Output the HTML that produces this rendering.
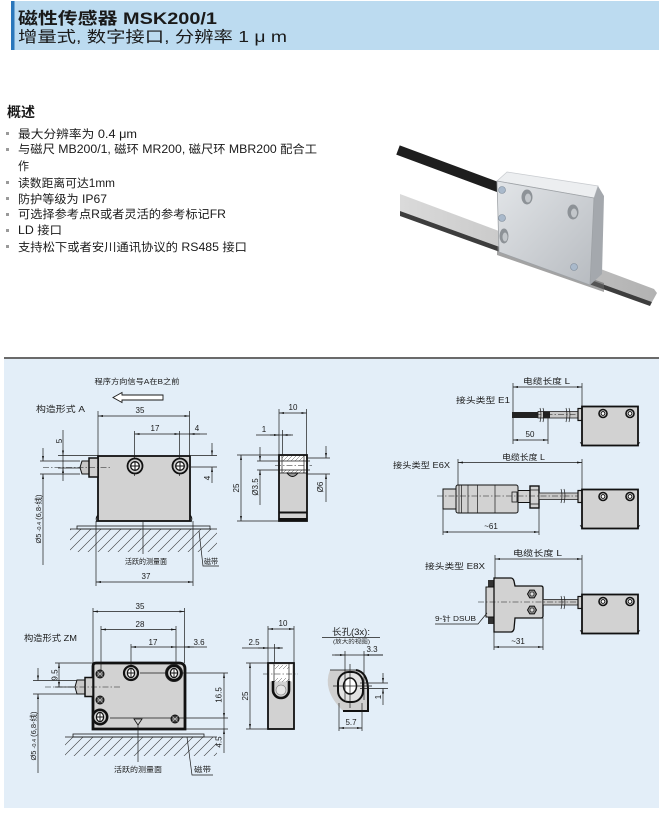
<!DOCTYPE html>
<html><head><meta charset="utf-8">
<style>
html,body{margin:0;padding:0;background:#fff;}
svg{display:block;}
text{font-family:"Liberation Sans","Noto Sans CJK SC",sans-serif;fill:#1a1a1a;}
.l{stroke:#1a1a1a;stroke-width:0.7;fill:none;}
.dm{stroke:#1a1a1a;stroke-width:0.7;fill:none;marker-start:url(#a);marker-end:url(#a);}
.me{stroke:#1a1a1a;stroke-width:0.7;fill:none;marker-end:url(#a);}
.c{stroke:#1a1a1a;stroke-width:0.6;fill:none;stroke-dasharray:6 2 1.5 2;}
.b{fill:#d2d2d2;stroke:#111;stroke-width:1.8;}
.t8{font-size:8px;}
.bt{font-size:11.5px;}
.bl{fill:#9a9a9a;}
</style></head><body>
<svg width="659" height="817" viewBox="0 0 659 817" xmlns="http://www.w3.org/2000/svg">
<defs>
<marker id="a" viewBox="0 0 10 4" refX="10" refY="2" markerWidth="5" markerHeight="2" markerUnits="userSpaceOnUse" orient="auto-start-reverse"><path d="M0,0L10,2L0,4z" fill="#1a1a1a"/></marker>
<pattern id="h" width="10" height="10" patternUnits="userSpaceOnUse"><path d="M-1,11L11,-1M-1,1L1,-1M9,11L11,9" stroke="#333" stroke-width="0.6"/></pattern>
<pattern id="h2" width="4" height="4" patternUnits="userSpaceOnUse"><path d="M-1,5L5,-1" stroke="#555" stroke-width="0.5"/></pattern>
<linearGradient id="sg" x1="0" y1="0" x2="1" y2="0"><stop offset="0" stop-color="#dadada"/><stop offset="0.5" stop-color="#c6c6c6"/><stop offset="1" stop-color="#b2b2b2"/></linearGradient>
<linearGradient id="ff" x1="0" y1="0" x2="1" y2="1"><stop offset="0" stop-color="#e2e5e8"/><stop offset="1" stop-color="#b7bbc0"/></linearGradient>
<g id="sA"><circle r="7.5" fill="#cfcfcf" stroke="#111" stroke-width="1.8"/><circle r="4.3" fill="#fff" stroke="#111" stroke-width="1.3"/><path d="M-4.3,0H4.3M0,-4.3V4.3" stroke="#111" stroke-width="1"/></g>
<g id="sS"><circle r="4" fill="#cfcfcf" stroke="#111" stroke-width="1.6"/><circle r="1.9" fill="#fff" stroke="#111" stroke-width="0.9"/></g>
<g id="sZ"><circle r="7" fill="#d2d2d2" stroke="#111" stroke-width="2.2"/><ellipse rx="3.6" ry="4.6" fill="#fff" stroke="#111" stroke-width="1.2"/><path d="M-3.6,0H3.6M0,-4.6V4.6" stroke="#111" stroke-width="0.9"/></g>
<g id="sm"><circle r="4" fill="#3a3a3a" stroke="#111" stroke-width="1"/><path d="M-2.5,-2.5L2.5,2.5M-2.5,2.5L2.5,-2.5M-3,0H3" stroke="#bbb" stroke-width="0.8"/></g>
<g id="body"><rect class="b" x="0" y="0" width="56" height="39"/><use href="#sS" x="21" y="7"/><use href="#sS" x="48" y="7"/><path d="M-2,36 q2,1 2,3 M58,36 q-2,1 -2,3" stroke="#111" stroke-width="0.8" fill="none"/></g>
<g id="hex"><polygon points="4.5,0 2.25,3.9 -2.25,3.9 -4.5,0 -2.25,-3.9 2.25,-3.9" fill="#8a8a8a" stroke="#111" stroke-width="1"/><circle r="2" fill="#ddd" stroke="#111" stroke-width="0.6"/></g>
</defs>

<!-- Header -->
<rect x="11" y="1" width="648" height="49" fill="#bcdbf0"/>
<rect x="11" y="1" width="3.5" height="49" fill="#2a77bb"/>
<text x="18" y="24" font-size="16.5" font-weight="bold" textLength="199" lengthAdjust="spacingAndGlyphs">磁性传感器 MSK200/1</text>
<text x="18" y="42" font-size="15.5" textLength="269" lengthAdjust="spacingAndGlyphs">增量式, 数字接口, 分辨率 1 μ m</text>

<!-- Overview -->
<text x="7" y="117" font-size="14" font-weight="bold" textLength="28" lengthAdjust="spacingAndGlyphs">概述</text>
<rect class="bl" x="6" y="132" width="3" height="3"/>
<text class="bt" x="18" y="138" textLength="119" lengthAdjust="spacingAndGlyphs">最大分辨率为 0.4 μm</text>
<rect class="bl" x="6" y="148" width="3" height="3"/>
<text class="bt" x="18" y="153" textLength="299" lengthAdjust="spacingAndGlyphs">与磁尺 MB200/1, 磁环 MR200, 磁尺环 MBR200 配合工</text>
<text class="bt" x="18" y="170" textLength="11" lengthAdjust="spacingAndGlyphs">作</text>
<rect class="bl" x="6" y="181" width="3" height="3"/>
<text class="bt" x="18" y="187" textLength="97" lengthAdjust="spacingAndGlyphs">读数距离可达1mm</text>
<rect class="bl" x="6" y="197" width="3" height="3"/>
<text class="bt" x="18" y="203" textLength="89" lengthAdjust="spacingAndGlyphs">防护等级为 IP67</text>
<rect class="bl" x="6" y="213" width="3" height="3"/>
<text class="bt" x="18" y="218" textLength="208" lengthAdjust="spacingAndGlyphs">可选择参考点R或者灵活的参考标记FR</text>
<rect class="bl" x="6" y="229" width="3" height="3"/>
<text class="bt" x="18" y="234" textLength="44" lengthAdjust="spacingAndGlyphs">LD 接口</text>
<rect class="bl" x="6" y="245" width="3" height="3"/>
<text class="bt" x="18" y="251" textLength="229" lengthAdjust="spacingAndGlyphs">支持松下或者安川通讯协议的 RS485 接口</text>

<!-- Product image -->
<polygon points="400,194 654,289 657,293 652,302 400,211" fill="url(#sg)"/>
<polygon points="400,211 652,302 650,306 400,216" fill="#3d3d3d"/>
<line x1="398" y1="150" x2="503" y2="189" stroke="#1e1e1e" stroke-width="10"/>
<polygon points="497,246 604,283 604,292 497,255" fill="#666" opacity="0.6"/>
<polygon points="497,181 507,172 598,186 594,198" fill="#eceef0" stroke="#c9ccd0" stroke-width="0.8"/>
<polygon points="594,198 598,186 604,196 602,274 590,285" fill="#a4a8ad"/>
<polygon points="497,181 594,198 590,285 499,252" fill="url(#ff)" stroke="#9ea2a6" stroke-width="0.8" stroke-linejoin="round"/>
<ellipse cx="527" cy="197" rx="5.5" ry="7.5" fill="#8d9297"/><ellipse cx="528" cy="198" rx="3" ry="4.5" fill="#c3c7cb"/>
<ellipse cx="573" cy="212" rx="5.5" ry="7.5" fill="#8d9297"/><ellipse cx="574" cy="213" rx="3" ry="4.5" fill="#c3c7cb"/>
<ellipse cx="504" cy="236" rx="4.5" ry="7.5" fill="#8d9297"/><ellipse cx="505" cy="237" rx="2.5" ry="4.5" fill="#c3c7cb"/>
<circle cx="502" cy="190" r="3.5" fill="#a9b9cb" stroke="#7d8a99" stroke-width="0.6"/>
<circle cx="502" cy="218" r="3.5" fill="#a9b9cb" stroke="#7d8a99" stroke-width="0.6"/>
<circle cx="574" cy="267" r="3.5" fill="#a9b9cb" stroke="#7d8a99" stroke-width="0.6"/>

<!-- Divider + panel -->
<rect x="4" y="359" width="655" height="449" fill="#e3eef8"/>
<line x1="4" y1="358" x2="659" y2="358" stroke="#111" stroke-width="1.2"/>

<!-- ===== Type A front ===== -->
<text x="137" y="384" font-size="7.5" text-anchor="middle" textLength="85" lengthAdjust="spacingAndGlyphs">程序方向信号A在B之前</text>
<polygon points="113,397.5 122,392.5 122,395 163,395 163,400 122,400 122,402.5" fill="#fff" stroke="#1a1a1a" stroke-width="0.9"/>
<text x="36" y="412" font-size="8.5" textLength="49" lengthAdjust="spacingAndGlyphs">构造形式 A</text>
<line class="l" x1="98" y1="411" x2="98" y2="456"/>
<line class="l" x1="189.5" y1="411" x2="189.5" y2="456"/>
<line class="dm" x1="98" y1="416" x2="189.5" y2="416"/>
<text class="t8" x="140" y="413" text-anchor="middle">35</text>
<rect class="b" x="98" y="456" width="92" height="65"/>
<path d="M98,515 q-3,3 -1,7 M190,515 q3,3 1,7" stroke="#111" stroke-width="0.9" fill="none"/>
<line class="l" x1="134.5" y1="431" x2="134.5" y2="476"/>
<line class="l" x1="179.5" y1="431" x2="179.5" y2="476"/>
<line class="dm" x1="134.5" y1="434" x2="179.5" y2="434"/>
<text class="t8" x="155" y="431" text-anchor="middle">17</text>
<line class="l" x1="179.5" y1="434" x2="207" y2="434"/>
<line class="me" x1="200" y1="434" x2="189.5" y2="434"/>
<text class="t8" x="197" y="431" text-anchor="middle">4</text>
<use href="#sA" x="135" y="466"/>
<use href="#sA" x="180" y="466"/>
<path d="M82,461 H89 V474 H82 L80,467.5 Z" fill="#c8c8c8" stroke="#111" stroke-width="1"/>
<rect x="89" y="458" width="9" height="19" fill="#cfcfcf" stroke="#111" stroke-width="1.5"/>
<line class="c" x1="43" y1="467.5" x2="112" y2="467.5"/>
<!-- 5 -->
<line class="l" x1="58" y1="455.5" x2="98" y2="455.5"/>
<line class="l" x1="58" y1="468" x2="80" y2="468"/>
<line class="me" x1="63" y1="430" x2="63" y2="455.5"/>
<line class="me" x1="63" y1="481" x2="63" y2="468"/>
<line class="l" x1="63" y1="455.5" x2="63" y2="468"/>
<text class="t8" transform="translate(62,441) rotate(-90)" text-anchor="middle">5</text>
<!-- dia 5 -->
<line class="l" x1="40" y1="461" x2="80" y2="461"/>
<line class="l" x1="40" y1="474" x2="80" y2="474"/>
<line class="me" x1="43" y1="448" x2="43" y2="461"/>
<line class="me" x1="43" y1="565" x2="43" y2="474"/>
<text transform="translate(41,519) rotate(-90)" font-size="7.5" text-anchor="middle">Ø5 <tspan font-size="5.5">-0.4</tspan> (6,8-线)</text>
<!-- right 4 -->
<line class="l" x1="191" y1="455.5" x2="217" y2="455.5"/>
<line class="l" x1="191" y1="467" x2="217" y2="467"/>
<line class="me" x1="212" y1="443" x2="212" y2="455.5"/>
<line class="me" x1="212" y1="483" x2="212" y2="467"/>
<text class="t8" transform="translate(210,478) rotate(-90)" text-anchor="middle">4</text>
<!-- base -->
<rect x="70" y="529" width="147" height="23" fill="url(#h)"/>
<rect x="77" y="526" width="133" height="3" fill="#e3eef8" stroke="#1a1a1a" stroke-width="0.8"/>
<line class="l" x1="70" y1="529" x2="217" y2="529"/>
<line class="l" x1="143" y1="522" x2="143" y2="554"/>
<text x="146" y="564" font-size="7.5" text-anchor="middle" textLength="42" lengthAdjust="spacingAndGlyphs">活跃的测量面</text>
<path class="l" d="M199,531 L203,566 H219"/>
<text x="204" y="564" font-size="7.5" textLength="14" lengthAdjust="spacingAndGlyphs">磁带</text>
<line class="l" x1="96" y1="521" x2="96" y2="586"/>
<line class="l" x1="193" y1="521" x2="193" y2="586"/>
<line class="dm" x1="96" y1="582" x2="193" y2="582"/>
<text class="t8" x="146" y="579" text-anchor="middle">37</text>

<!-- ===== Type A side ===== -->
<rect class="b" x="279" y="455" width="28" height="66"/>
<rect x="280" y="456" width="26" height="17" fill="#fff"/>
<rect x="282" y="456" width="22" height="5" fill="url(#h2)"/>
<rect x="282" y="470" width="22" height="3" fill="url(#h2)"/>
<line class="l" x1="282" y1="455" x2="282" y2="473"/>
<line class="l" x1="304" y1="455" x2="304" y2="473"/>
<line x1="279" y1="473" x2="307" y2="473" stroke="#111" stroke-width="0.8"/>
<path d="M287,473 Q292.5,480 298,473 Z" fill="#999" stroke="#111" stroke-width="1"/>
<rect x="279" y="511.5" width="28" height="2" fill="#111"/>
<rect x="279" y="518" width="28" height="3" fill="#111"/>
<line class="c" x1="275" y1="465.5" x2="312" y2="465.5"/>
<line class="l" x1="279" y1="409" x2="279" y2="455"/>
<line class="l" x1="306.5" y1="409" x2="306.5" y2="455"/>
<line class="dm" x1="279" y1="413" x2="306.5" y2="413"/>
<text class="t8" x="293" y="410" text-anchor="middle">10</text>
<line class="l" x1="256" y1="435" x2="293" y2="435"/>
<line class="me" x1="270" y1="435" x2="279" y2="435"/>
<line class="me" x1="291" y1="435" x2="282.5" y2="435"/>
<line class="l" x1="282.5" y1="430" x2="282.5" y2="455"/>
<text class="t8" x="264" y="432" text-anchor="middle">1</text>
<line class="l" x1="237" y1="455" x2="279" y2="455"/>
<line class="l" x1="237" y1="521" x2="279" y2="521"/>
<line class="dm" x1="241" y1="455" x2="241" y2="521"/>
<text class="t8" transform="translate(239,488) rotate(-90)" text-anchor="middle">25</text>
<line class="l" x1="257" y1="461" x2="310" y2="461"/>
<line class="l" x1="257" y1="470" x2="310" y2="470"/>
<line class="me" x1="260" y1="447" x2="260" y2="461"/>
<line class="me" x1="260" y1="505" x2="260" y2="470"/>
<text class="t8" transform="translate(258,487) rotate(-90)" text-anchor="middle">Ø3.5</text>
<line class="l" x1="306" y1="458" x2="330" y2="458"/>
<line class="l" x1="306" y1="474" x2="330" y2="474"/>
<line class="me" x1="326" y1="446" x2="326" y2="458"/>
<line class="me" x1="326" y1="502" x2="326" y2="474"/>
<text class="t8" transform="translate(323,487) rotate(-90)" text-anchor="middle">Ø6</text>

<!-- ===== E1 ===== -->
<text class="t8" x="523" y="384" textLength="47" lengthAdjust="spacingAndGlyphs">电缆长度 L</text>
<line class="dm" x1="513" y1="387" x2="582" y2="387"/>
<line class="l" x1="513" y1="383" x2="513" y2="444"/>
<line class="l" x1="582" y1="383" x2="582" y2="407"/>
<text class="t8" x="456" y="403" textLength="54" lengthAdjust="spacingAndGlyphs">接头类型 E1</text>
<rect x="512" y="412" width="26" height="6" fill="#222"/>
<rect x="538" y="411.5" width="41" height="6.5" fill="#c8c8c8" stroke="#222" stroke-width="0.8"/>
<rect x="543" y="411.5" width="7" height="6.5" fill="#222"/>
<path class="l" d="M540,408 q2,6 0,14 M543,408 q2,6 0,14 M566,408 q2,6 0,14 M569,408 q2,6 0,14"/>
<line class="c" x1="535" y1="414.5" x2="600" y2="414.5"/>
<rect x="578" y="408.5" width="4.5" height="12" fill="#d2d2d2" stroke="#111" stroke-width="1.2"/>
<use href="#body" x="582" y="406.5"/>
<line class="l" x1="548" y1="418" x2="548" y2="444"/>
<line class="dm" x1="513" y1="440" x2="548" y2="440"/>
<text class="t8" x="530" y="437" text-anchor="middle">50</text>

<!-- ===== E6X ===== -->
<text class="t8" x="502" y="460" textLength="43" lengthAdjust="spacingAndGlyphs">电缆长度 L</text>
<line class="dm" x1="458" y1="462.5" x2="582" y2="462.5"/>
<line class="l" x1="458" y1="459" x2="458" y2="486"/>
<line class="l" x1="582" y1="459" x2="582" y2="490"/>
<text class="t8" x="393" y="468" textLength="57" lengthAdjust="spacingAndGlyphs">接头类型 E6X</text>
<rect x="443" y="489" width="13" height="20" fill="#d2d2d2" stroke="#111" stroke-width="1"/>
<rect x="456" y="485" width="62" height="28" rx="2" fill="#d2d2d2" stroke="#111" stroke-width="1"/>
<path class="l" d="M459,485V513M461.5,485V513M468,485V513M477.5,485V513M495,485V513"/>
<rect x="512" y="492" width="5" height="10" fill="none" stroke="#111" stroke-width="0.8"/>
<rect x="518" y="490.5" width="12" height="12" fill="#d2d2d2" stroke="#111" stroke-width="1"/>
<rect x="530" y="486" width="9" height="22" fill="#d2d2d2" stroke="#111" stroke-width="1.4"/>
<path class="l" d="M530,490H539M530,504H539"/>
<rect x="539" y="493" width="40" height="6.5" fill="#c8c8c8" stroke="#222" stroke-width="0.8"/>
<path class="l" d="M561,489 q2,6 0,14 M564,489 q2,6 0,14"/>
<line class="c" x1="437" y1="496" x2="600" y2="496"/>
<rect x="578" y="490.5" width="4.5" height="12" fill="#d2d2d2" stroke="#111" stroke-width="1.2"/>
<use href="#body" x="582" y="489.5"/>
<line class="l" x1="443" y1="509" x2="443" y2="535"/>
<line class="l" x1="539" y1="508" x2="539" y2="535"/>
<line class="dm" x1="443" y1="532" x2="539" y2="532"/>
<text class="t8" x="491" y="529" text-anchor="middle">~61</text>

<!-- ===== E8X ===== -->
<text class="t8" x="513" y="556" textLength="49" lengthAdjust="spacingAndGlyphs">电缆长度 L</text>
<line class="dm" x1="495" y1="559" x2="582" y2="559"/>
<line class="l" x1="495" y1="555" x2="495" y2="578"/>
<line class="l" x1="582" y1="555" x2="582" y2="595"/>
<text class="t8" x="425" y="569" textLength="60" lengthAdjust="spacingAndGlyphs">接头类型 E8X</text>
<rect x="488" y="580" width="6" height="7" fill="#333"/>
<rect x="488" y="617" width="6" height="7" fill="#333"/>
<rect x="486" y="587" width="8" height="30" fill="#d2d2d2" stroke="#111" stroke-width="1"/>
<path d="M494,578 H511 Q513,578 514,581 L515,586 H541 Q543,586 543,588 V616 Q543,618 541,618 H515 L514,629 Q513,632 511,632 H494 Z" fill="#d2d2d2" stroke="#111" stroke-width="1.3"/>
<use href="#hex" x="532" y="594"/>
<use href="#hex" x="532" y="610"/>
<rect x="543" y="599.5" width="36" height="5.5" fill="#c8c8c8" stroke="#222" stroke-width="0.8"/>
<path class="l" d="M561,596 q2,6 0,13 M564,596 q2,6 0,13"/>
<line class="c" x1="478" y1="602" x2="600" y2="602"/>
<rect x="578" y="596.5" width="4.5" height="12" fill="#d2d2d2" stroke="#111" stroke-width="1.2"/>
<use href="#body" x="582" y="594.5"/>
<text x="435" y="621" font-size="7" textLength="41" lengthAdjust="spacingAndGlyphs">9-针 DSUB</text>
<path class="l" d="M435,624 H478 L487,613"/>
<line class="l" x1="494" y1="632" x2="494" y2="650"/>
<line class="l" x1="543" y1="618" x2="543" y2="650"/>
<line class="dm" x1="494" y1="647" x2="543" y2="647"/>
<text class="t8" x="518" y="644" text-anchor="middle">~31</text>

<!-- ===== ZM front ===== -->
<text class="t8" x="140" y="609" text-anchor="middle">35</text>
<line class="dm" x1="93" y1="611.5" x2="184.5" y2="611.5"/>
<text class="t8" x="140" y="627" text-anchor="middle">28</text>
<line class="dm" x1="101" y1="629.5" x2="176" y2="629.5"/>
<text class="t8" x="153" y="645" text-anchor="middle">17</text>
<line class="dm" x1="131" y1="647" x2="176" y2="647"/>
<text class="t8" x="199" y="645" text-anchor="middle">3.6</text>
<line class="l" x1="176" y1="647" x2="207" y2="647"/>
<line class="me" x1="194" y1="647" x2="184.5" y2="647"/>
<text x="24" y="641" font-size="8.5" textLength="53" lengthAdjust="spacingAndGlyphs">构造形式 ZM</text>
<path d="M96,663 H179 Q185,663 185,669 V729 H93 V666 Q93,663 96,663 Z" fill="#d2d2d2" stroke="#111" stroke-width="2.8"/>
<line class="l" x1="93" y1="608" x2="93" y2="663"/>
<line class="l" x1="184.5" y1="608" x2="184.5" y2="663"/>
<line class="l" x1="101" y1="626" x2="101" y2="675"/>
<line class="l" x1="131" y1="644" x2="131" y2="680"/>
<line class="l" x1="176" y1="626" x2="176" y2="680"/>
<line class="l" x1="140" y1="673" x2="228" y2="673"/>
<line class="l" x1="110" y1="718" x2="228" y2="718"/>
<line class="l" x1="186" y1="729" x2="228" y2="729"/>
<circle cx="174" cy="673" r="9" fill="#222"/>
<circle cx="100" cy="717" r="8.5" fill="#222"/>
<use href="#sZ" x="131" y="673"/>
<use href="#sZ" x="174" y="673"/>
<use href="#sZ" x="100" y="717"/>
<use href="#sm" x="100" y="674"/>
<use href="#sm" x="100" y="700"/>
<use href="#sm" x="175" y="719"/>
<polygon points="134,719 142,719 138,725" fill="none" stroke="#111" stroke-width="0.8"/>
<path d="M77,680 H86 V694 H77 L75,687 Z" fill="#c8c8c8" stroke="#111" stroke-width="1"/>
<rect x="85" y="677.5" width="8" height="19" fill="#cfcfcf" stroke="#111" stroke-width="1.5"/>
<line class="c" x1="45" y1="687" x2="120" y2="687"/>
<line class="l" x1="55" y1="663" x2="93" y2="663"/>
<line class="l" x1="55" y1="687" x2="75" y2="687"/>
<line class="dm" x1="59" y1="663" x2="59" y2="687"/>
<text class="t8" transform="translate(57.5,675) rotate(-90)" text-anchor="middle">9.5</text>
<line class="l" x1="33" y1="680.5" x2="77" y2="680.5"/>
<line class="l" x1="33" y1="694" x2="77" y2="694"/>
<line class="me" x1="38" y1="668" x2="38" y2="680.5"/>
<line class="me" x1="38" y1="773" x2="38" y2="694"/>
<text transform="translate(36,736) rotate(-90)" font-size="7.5" text-anchor="middle">Ø5 <tspan font-size="5.5">-0.4</tspan> (6,8-线)</text>
<rect x="65" y="737" width="152" height="19" fill="url(#h)"/>
<rect x="73" y="734" width="131" height="3" fill="#e3eef8" stroke="#1a1a1a" stroke-width="0.8"/>
<line class="l" x1="65" y1="737" x2="217" y2="737"/>
<line class="l" x1="138" y1="725" x2="138" y2="762"/>
<text x="138" y="772" font-size="7.5" text-anchor="middle" textLength="48" lengthAdjust="spacingAndGlyphs">活跃的测量面</text>
<path class="l" d="M187,737 L192,775 H213"/>
<text x="194" y="772" font-size="7.5" textLength="17" lengthAdjust="spacingAndGlyphs">磁带</text>
<line class="dm" x1="224" y1="673" x2="224" y2="718"/>
<line class="me" x1="224" y1="753" x2="224" y2="729"/>
<line class="l" x1="224" y1="718" x2="224" y2="729"/>
<text class="t8" transform="translate(221.5,695) rotate(-90)" text-anchor="middle">16.5</text>
<text class="t8" transform="translate(221.5,742) rotate(-90)" text-anchor="middle">4.5</text>

<!-- ===== ZM side ===== -->
<rect class="b" x="268" y="663" width="26" height="66"/>
<rect x="270" y="664.5" width="22" height="17" fill="#fff"/>
<rect x="274" y="665" width="15" height="4" fill="url(#h2)"/>
<rect x="274" y="678" width="15" height="4" fill="url(#h2)"/>
<line class="l" x1="274" y1="663" x2="274" y2="682"/>
<line class="l" x1="289" y1="663" x2="289" y2="682"/>
<path d="M273,681 V690 A8,8 0 0 0 289,690 V681" fill="none" stroke="#111" stroke-width="2.6"/>
<circle cx="281" cy="690" r="5" fill="#e6e6e6" stroke="#777" stroke-width="0.6"/>
<line class="c" x1="263" y1="674" x2="298" y2="674"/>
<line class="l" x1="268" y1="626" x2="268" y2="663"/>
<line class="l" x1="294" y1="626" x2="294" y2="663"/>
<line class="dm" x1="268" y1="629" x2="294" y2="629"/>
<text class="t8" x="283" y="626" text-anchor="middle">10</text>
<line class="l" x1="242" y1="648" x2="282" y2="648"/>
<line class="me" x1="258" y1="648" x2="268" y2="648"/>
<line class="me" x1="283" y1="648" x2="274.5" y2="648"/>
<line class="l" x1="274.5" y1="644" x2="274.5" y2="663"/>
<text class="t8" x="254" y="645" text-anchor="middle">2.5</text>
<line class="l" x1="246" y1="663" x2="268" y2="663"/>
<line class="l" x1="246" y1="729" x2="268" y2="729"/>
<line class="dm" x1="250" y1="663" x2="250" y2="729"/>
<text class="t8" transform="translate(248,696) rotate(-90)" text-anchor="middle">25</text>

<!-- ===== Slot view ===== -->
<text x="332" y="635" font-size="9" textLength="38" lengthAdjust="spacingAndGlyphs">长孔(3x):</text>
<line class="l" x1="322" y1="637.5" x2="380" y2="637.5"/>
<text x="333" y="643.5" font-size="5.5" textLength="37" lengthAdjust="spacingAndGlyphs">(放大的视图)</text>
<text class="t8" x="372" y="652" text-anchor="middle">3.3</text>
<line class="l" x1="332" y1="655" x2="383" y2="655"/>
<line class="me" x1="335" y1="655" x2="345" y2="655"/>
<line class="me" x1="383" y1="655" x2="364" y2="655"/>
<path d="M330,670 H358 Q367,672 368,688 V711 H343 Q332,700 329,690 Q326,680 330,670 Z" fill="#cfcfcf"/>
<path d="M356,670 Q367,672 368,688 V711 H343" fill="none" stroke="#111" stroke-width="2"/>
<path d="M330,670 H356" stroke="#111" stroke-width="0.8"/>
<rect x="338" y="672" width="25" height="30" rx="11" fill="#e2e2e2" stroke="#111" stroke-width="2"/>
<ellipse cx="350" cy="686" rx="6.5" ry="8" fill="#fff" stroke="#111" stroke-width="1.5"/>
<line class="l" x1="345" y1="651" x2="345" y2="700"/>
<line class="l" x1="364" y1="651" x2="364" y2="700"/>
<line class="l" x1="333" y1="686" x2="372" y2="686"/>
<line class="l" x1="350" y1="664" x2="350" y2="708"/>
<line class="l" x1="360" y1="683" x2="388" y2="683"/>
<line class="l" x1="360" y1="688.5" x2="388" y2="688.5"/>
<line class="me" x1="383" y1="673" x2="383" y2="683"/>
<line class="me" x1="383" y1="705" x2="383" y2="688.5"/>
<text class="t8" transform="translate(381,697) rotate(-90)" text-anchor="middle">1</text>
<line class="l" x1="339" y1="703" x2="339" y2="731"/>
<line class="l" x1="362" y1="703" x2="362" y2="731"/>
<line class="dm" x1="339" y1="728" x2="362" y2="728"/>
<text class="t8" x="351" y="725" text-anchor="middle">5.7</text>
</svg>
</body></html>
